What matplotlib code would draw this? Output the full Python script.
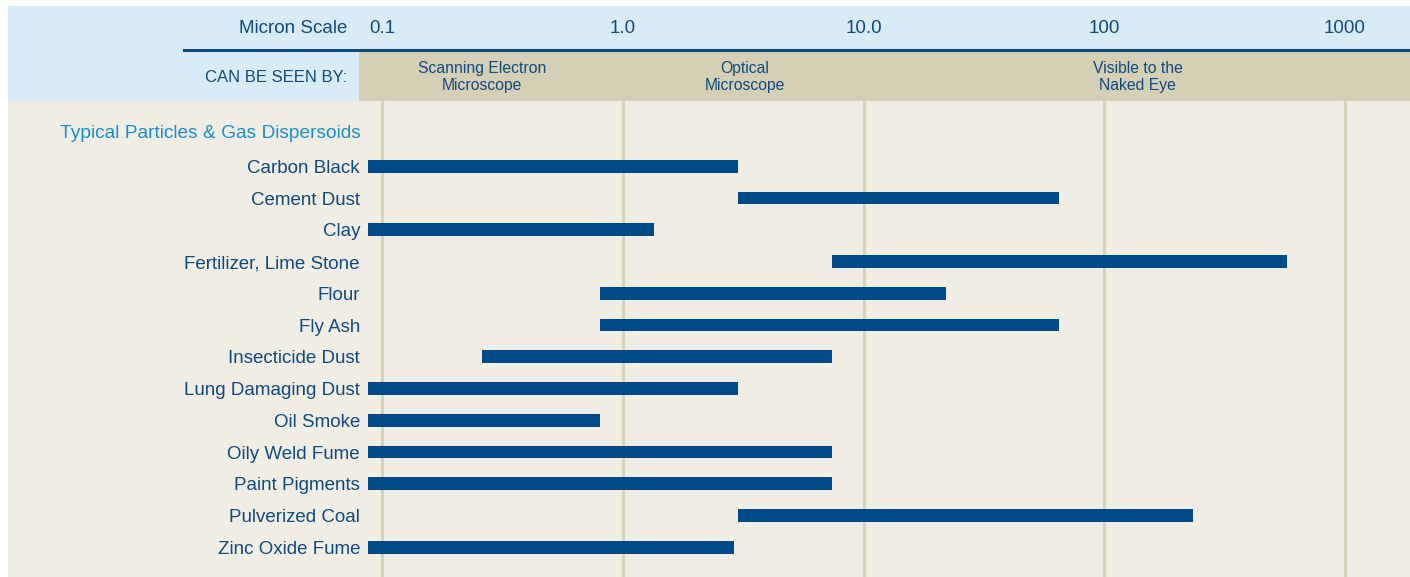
import numpy as np
import matplotlib
matplotlib.use("Agg")
import matplotlib.pyplot as plt
from matplotlib.patches import Rectangle
from matplotlib.lines import Line2D
from matplotlib.transforms import blended_transform_factory

plt.rcParams['font.family'] = ['Liberation Sans', 'DejaVu Sans']

# particle size ranges in microns
particles = ["Carbon Black", "Cement Dust", "Clay", "Fertilizer, Lime Stone", "Flour",
             "Fly Ash", "Insecticide Dust", "Lung Damaging Dust", "Oil Smoke",
             "Oily Weld Fume", "Paint Pigments", "Pulverized Coal", "Zinc Oxide Fume"]
size_min = [0.087, 3.0, 0.087, 7.4, 0.8, 0.8, 0.26, 0.087, 0.087, 0.087, 0.087, 3.0, 0.087]
size_max = [3.0, 65, 1.35, 575, 22, 65, 7.4, 3.0, 0.8, 7.4, 7.4, 235, 2.9]

scale_ticks = [0.1, 1.0, 10.0, 100, 1000]
scale_labels = ["0.1", "1.0", "10.0", "100", "1000"]

seen_by = ["Scanning Electron\nMicroscope", "Optical\nMicroscope", "Visible to the\nNaked Eye"]
seen_by_x = [0.26, 3.2, 138]

W, H = 1410, 577
dark = "#0f4a80"
bar_col = "#004b87"
light_blue = "#d9ebf6"
tan = "#d5cfb6"
beige = "#f0ede5"

fig = plt.figure(figsize=(W / 100, H / 100), dpi=100)
fig.patch.set_facecolor("white")

def px(x0, y0, x1, y1):
    # figure fraction box from pixel coords (top origin)
    return [x0 / W, 1 - y1 / H, (x1 - x0) / W, (y1 - y0) / H]

# background blocks
hb = px(8, 6, W, 101)
fig.patches.append(Rectangle((hb[0], hb[1]), hb[2], hb[3], transform=fig.transFigure,
                             facecolor=light_blue, edgecolor="none", zorder=-3))
tb = px(359, 52, W, 101)
fig.patches.append(Rectangle((tb[0], tb[1]), tb[2], tb[3], transform=fig.transFigure,
                             facecolor=tan, edgecolor="none", zorder=-2))
bb = px(8, 101, W, H)
fig.patches.append(Rectangle((bb[0], bb[1]), bb[2], bb[3], transform=fig.transFigure,
                             facecolor=beige, edgecolor="none", zorder=-3))
fig.lines.append(Line2D([184 / W, 1], [1 - 50 / H, 1 - 50 / H], transform=fig.transFigure,
                        color=dark, lw=2.2, zorder=-1))

ax = fig.add_axes(px(360, 101, W, H))
ax.set_zorder(5)
ax.set_facecolor("none")
ax.set_xscale("log")
ax.set_xlim(0.0808, 1866)
ax.set_ylim(12.935, -2.057)

for t in scale_ticks:
    ax.axvline(t, color="#d8d1b4", lw=2.2, zorder=1)

y = np.arange(len(particles))
widths = np.array(size_max) - np.array(size_min)
ax.barh(y, widths, left=size_min, height=0.4, color=bar_col, zorder=3)

ax.set_yticks(y)
ax.set_yticklabels(particles, fontsize=13.5, color=dark)
ax.tick_params(axis="y", length=0, pad=0)
ax.set_xticks([])
ax.minorticks_off()
ax.tick_params(axis="x", which="both", length=0, labelbottom=False)
for s in ax.spines.values():
    s.set_visible(False)

ax.text(0.001, -1.03, "Typical Particles & Gas Dispersoids", transform=ax.get_yaxis_transform(),
        ha="right", va="center", fontsize=13.8, color="#1a8fd0")

# header texts
trans = blended_transform_factory(ax.transData, fig.transFigure)
for t, lab in zip(scale_ticks, scale_labels):
    ax.text(t, 1 - 28.5 / H, lab, transform=trans, ha="center", va="center",
            fontsize=13.5, color=dark, clip_on=False)
for xv, lab in zip(seen_by_x, seen_by):
    ax.text(xv, 1 - 77 / H, lab, transform=trans, ha="center", va="center",
            fontsize=11.3, color=dark, linespacing=1.1, clip_on=False)

fig.text(347 / W, 1 - 28.5 / H, "Micron Scale", ha="right", va="center", fontsize=13.5, color=dark)
fig.text(347 / W, 1 - 77 / H, "CAN BE SEEN BY:", ha="right", va="center", fontsize=12, color=dark)

fig.savefig("out.png", dpi=100)
